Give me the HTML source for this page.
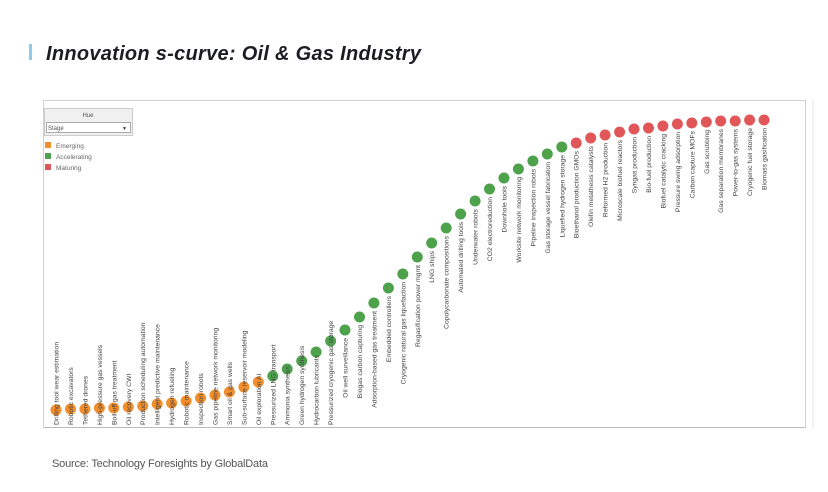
<!DOCTYPE html>
<html><head><meta charset="utf-8"><style>
body{margin:0;background:#fff;width:828px;height:487px;overflow:hidden;font-family:"Liberation Sans",sans-serif}
</style></head><body>
<svg width="828" height="487" xmlns="http://www.w3.org/2000/svg" font-family="Liberation Sans, sans-serif">
<rect x="29" y="44" width="3" height="16" fill="#8fcbea"/>
<text x="46" y="60" font-size="20" font-weight="bold" font-style="italic" fill="#1c1c24" textLength="375">Innovation s-curve: Oil &amp; Gas Industry</text>
<rect x="43.5" y="100.5" width="762" height="327" fill="none" stroke="#d0d0d0"/>
<line x1="813" y1="100" x2="813" y2="428" stroke="#e4e4e4"/>
<line x1="44" y1="427.5" x2="805" y2="427.5" stroke="#bbb"/>
<rect x="44.5" y="108.5" width="88" height="27" fill="#f0f0f0" stroke="#ccc"/>
<text x="88" y="117" font-size="6" text-anchor="middle" fill="#555">Hue</text>
<rect x="46.5" y="122.5" width="84" height="10" fill="#fff" stroke="#aaa"/>
<text x="48" y="130" font-size="6" fill="#555">Stage</text>
<text x="122" y="130" font-size="5" fill="#333">▼</text>
<rect x="45" y="142" width="6" height="6" fill="#f28e2b"/><text x="56" y="148" font-size="6.5" fill="#666">Emerging</text>
<rect x="45" y="153" width="6" height="6" fill="#4ea24b"/><text x="56" y="159" font-size="6.5" fill="#666">Accelerating</text>
<rect x="45" y="164" width="6" height="6" fill="#e15759"/><text x="56" y="170" font-size="6.5" fill="#666">Maturing</text>
<g fill="#f28e2b">
<circle cx="56" cy="410" r="5.5"/><circle cx="70.5" cy="409" r="5.5"/><circle cx="84.9" cy="409" r="5.5"/><circle cx="99.4" cy="408" r="5.5"/><circle cx="113.8" cy="408" r="5.5"/><circle cx="128.3" cy="407" r="5.5"/><circle cx="142.7" cy="406" r="5.5"/><circle cx="157.2" cy="404" r="5.5"/><circle cx="171.6" cy="403" r="5.5"/><circle cx="186.1" cy="401" r="5.5"/><circle cx="200.5" cy="398" r="5.5"/><circle cx="215" cy="395" r="5.5"/><circle cx="229.4" cy="392" r="5.5"/><circle cx="243.9" cy="387" r="5.5"/><circle cx="258.3" cy="382" r="5.5"/>
</g>
<g fill="#4ea24b">
<circle cx="272.8" cy="376" r="5.5"/><circle cx="287.2" cy="369" r="5.5"/><circle cx="301.7" cy="361" r="5.5"/><circle cx="316.1" cy="352" r="5.5"/><circle cx="330.6" cy="341" r="5.5"/><circle cx="345" cy="330" r="5.5"/><circle cx="359.5" cy="317" r="5.5"/><circle cx="373.9" cy="303" r="5.5"/><circle cx="388.4" cy="288" r="5.5"/><circle cx="402.8" cy="274" r="5.5"/><circle cx="417.3" cy="257" r="5.5"/><circle cx="431.7" cy="243" r="5.5"/><circle cx="446.2" cy="228" r="5.5"/><circle cx="460.6" cy="214" r="5.5"/><circle cx="475.1" cy="201" r="5.5"/><circle cx="489.5" cy="189" r="5.5"/><circle cx="504" cy="178" r="5.5"/><circle cx="518.4" cy="169" r="5.5"/><circle cx="532.9" cy="161" r="5.5"/><circle cx="547.3" cy="154" r="5.5"/><circle cx="561.8" cy="147" r="5.5"/>
</g>
<g fill="#e15759">
<circle cx="576.2" cy="143" r="5.5"/><circle cx="590.7" cy="138" r="5.5"/><circle cx="605.1" cy="135" r="5.5"/><circle cx="619.6" cy="132" r="5.5"/><circle cx="634" cy="129" r="5.5"/><circle cx="648.5" cy="128" r="5.5"/><circle cx="662.9" cy="126" r="5.5"/><circle cx="677.4" cy="124" r="5.5"/><circle cx="691.8" cy="123" r="5.5"/><circle cx="706.3" cy="122" r="5.5"/><circle cx="720.7" cy="121" r="5.5"/><circle cx="735.2" cy="121" r="5.5"/><circle cx="749.6" cy="120" r="5.5"/><circle cx="764.1" cy="120" r="5.5"/>
</g>
<g font-size="6.8" fill="#444">
<text transform="translate(58.5,425) rotate(-90)">Drilling tool wear estimation</text>
<text transform="translate(73,425) rotate(-90)">Robotic excavators</text>
<text transform="translate(87.4,425) rotate(-90)">Tethered drones</text>
<text transform="translate(101.9,425) rotate(-90)">High-pressure gas vessels</text>
<text transform="translate(116.3,425) rotate(-90)">Boil-off gas treatment</text>
<text transform="translate(130.8,425) rotate(-90)">Oil recovery CWI</text>
<text transform="translate(145.2,425) rotate(-90)">Production scheduling automation</text>
<text transform="translate(159.7,425) rotate(-90)">Intelligent predictive maintenance</text>
<text transform="translate(174.1,425) rotate(-90)">Hydrogen refueling</text>
<text transform="translate(188.6,425) rotate(-90)">Robotic maintenance</text>
<text transform="translate(203,425) rotate(-90)">Inspection robots</text>
<text transform="translate(217.5,425) rotate(-90)">Gas pipeline network monitoring</text>
<text transform="translate(231.9,425) rotate(-90)">Smart oil &amp; gas wells</text>
<text transform="translate(246.4,425) rotate(-90)">Sub-surface reservoir modeling</text>
<text transform="translate(260.8,425) rotate(-90)">Oil exploration AI</text>
<text transform="translate(275.3,425) rotate(-90)">Pressurized LNG transport</text>
<text transform="translate(289.7,425) rotate(-90)">Ammonia synthesis</text>
<text transform="translate(304.2,425) rotate(-90)">Green hydrogen synthesis</text>
<text transform="translate(318.6,425) rotate(-90)">Hydrocarbon lubricants</text>
<text transform="translate(333.1,425) rotate(-90)">Pressurized cryogenic gas storage</text>
<g text-anchor="end">
<text transform="translate(347.5,338) rotate(-90)">Oil well surveillance</text>
<text transform="translate(362,325) rotate(-90)">Biogas carbon capturing</text>
<text transform="translate(376.4,311) rotate(-90)">Adsorption-based gas treatment</text>
<text transform="translate(390.9,296) rotate(-90)">Embedded controllers</text>
<text transform="translate(405.3,282) rotate(-90)">Cryogenic natural gas liquefaction</text>
<text transform="translate(419.8,265) rotate(-90)">Regasification power mgmt</text>
<text transform="translate(434.2,251) rotate(-90)">LNG ships</text>
<text transform="translate(448.7,236) rotate(-90)">Copolycarbonate compositions</text>
<text transform="translate(463.1,222) rotate(-90)">Automated drilling tools</text>
<text transform="translate(477.6,209) rotate(-90)">Underwater robots</text>
<text transform="translate(492,197) rotate(-90)">CO2 electroreduction</text>
<text transform="translate(506.5,186) rotate(-90)">Downhole tools</text>
<text transform="translate(520.9,177) rotate(-90)">Worksite network monitoring</text>
<text transform="translate(535.4,169) rotate(-90)">Pipeline inspection robots</text>
<text transform="translate(549.8,162) rotate(-90)">Gas storage vessel fabrication</text>
<text transform="translate(564.3,155) rotate(-90)">Liquefied hydrogen storage</text>
<text transform="translate(578.7,151) rotate(-90)">Bioethanol production GMOs</text>
<text transform="translate(593.2,146) rotate(-90)">Olefin metathesis catalysts</text>
<text transform="translate(607.6,143) rotate(-90)">Reformed H2 production</text>
<text transform="translate(622.1,140) rotate(-90)">Microscale biofuel reactors</text>
<text transform="translate(636.5,137) rotate(-90)">Syngas production</text>
<text transform="translate(651,136) rotate(-90)">Bio-fuel production</text>
<text transform="translate(665.4,134) rotate(-90)">Biofuel catalytic cracking</text>
<text transform="translate(679.9,132) rotate(-90)">Pressure swing adsorption</text>
<text transform="translate(694.3,131) rotate(-90)">Carbon capture MOFs</text>
<text transform="translate(708.8,130) rotate(-90)">Gas scrubbing</text>
<text transform="translate(723.2,129) rotate(-90)">Gas separation membranes</text>
<text transform="translate(737.7,129) rotate(-90)">Power-to-gas systems</text>
<text transform="translate(752.1,128) rotate(-90)">Cryogenic fuel storage</text>
<text transform="translate(766.6,128) rotate(-90)">Biomass gasification</text>
</g>
</g>
<text x="52" y="467" font-size="11" fill="#555" textLength="216">Source: Technology Foresights by GlobalData</text>
</svg>
</body></html>
